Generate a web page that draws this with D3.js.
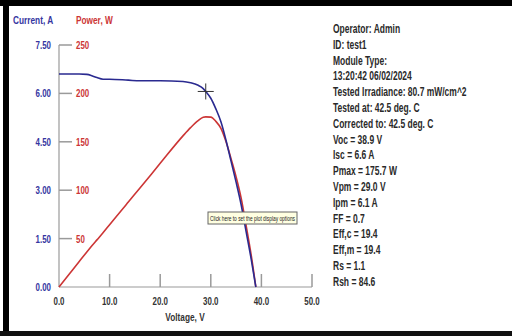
<!DOCTYPE html>
<html>
<head>
<meta charset="utf-8">
<script src="https://cdn.jsdelivr.net/npm/d3@7"></script>
<style>
  body { margin: 0; background: #fff; }
  svg text { font-family: "Liberation Sans", Arial, sans-serif; font-weight: bold; }
</style>
</head>
<body>
<svg id="chart" width="512" height="336"></svg>
<script>
'use strict';

// I-V curve
var voltage = [0, 2, 4, 5.5, 6.5, 7.5, 8.7, 10, 13.7, 16, 20, 24.5, 26, 27.5, 28.5, 29, 30, 31, 32, 33, 34, 35, 36, 37, 38, 38.9]
var current = [6.60, 6.60, 6.60, 6.59, 6.55, 6.49, 6.44, 6.44, 6.41, 6.39, 6.39, 6.37, 6.33, 6.25, 6.15, 6.06, 5.85, 5.52, 5.12, 4.55, 3.90, 3.25, 2.55, 1.70, 0.85, 0]
var power = [0, 13.2, 26.4, 36.2, 42.6, 48.7, 56.0, 64.4, 87.8, 102.2, 127.8, 156.1, 164.6, 171.9, 175.3, 175.7, 175.5, 171.1, 163.8, 150.2, 132.6, 113.8, 91.8, 62.9, 32.3, 0]

var currentTicks = [0, 1.5, 3, 4.5, 6, 7.5]
var powerTicks = [0, 50, 100, 150, 200, 250]
var voltageTicks = [0, 10, 20, 30, 40, 50]

var mpp = { v: 29.0, i: 6.06 }

var infoLines = [
  'Operator: Admin',
  'ID: test1',
  'Module Type:',
  '13:20:42 06/02/2024',
  'Tested Irradiance: 80.7 mW/cm^2',
  'Tested at: 42.5 deg. C',
  'Corrected to: 42.5 deg. C',
  'Voc = 38.9 V',
  'Isc = 6.6 A',
  'Pmax = 175.7 W',
  'Vpm = 29.0 V',
  'Ipm = 6.1 A',
  'FF = 0.7',
  'Eff,c = 19.4',
  'Eff,m = 19.4',
  'Rs = 1.1',
  'Rsh = 84.6'
]

var blue = '#35359f', red = '#cc3535', grey = '#9a9a9a'
var narrow = 0.72   // no narrow font installed, squeeze horizontally

var svg = d3.select('#chart')

// black frame (scanned screenshot edges)
svg.append('rect').attr('x', 0).attr('y', 0).attr('width', 512).attr('height', 6).attr('fill', '#000')
svg.append('rect').attr('x', 3).attr('y', 0).attr('width', 6).attr('height', 336).attr('fill', '#000')
svg.append('rect').attr('x', 0).attr('y', 331).attr('width', 512).attr('height', 5).attr('fill', '#111')

var x = d3.scaleLinear().domain([0, 50]).range([59, 312])
var yI = d3.scaleLinear().domain([0, 7.5]).range([287, 45])
var yP = d3.scaleLinear().domain([0, 250]).range([287, 45])

var g = svg.append('g')

function label(sel, tx, ty, sx) {
  return sel.attr('transform', function(d, i) {
    return 'translate(' + tx(d, i) + ',' + ty(d, i) + ') scale(' + (sx || narrow) + ',1)'
  })
}
function k(v) { return function() { return v } }

// axes lines
g.append('line').attr('x1', x(0)).attr('x2', x(0)).attr('y1', yI(7.5)).attr('y2', yI(0)).attr('stroke', grey).attr('stroke-width', 1.2)
g.append('line').attr('x1', x(0)).attr('x2', x(50)).attr('y1', yI(0)).attr('y2', yI(0)).attr('stroke', grey).attr('stroke-width', 1.2)

// left ticks
g.selectAll('.ytick').data(currentTicks.slice(1)).enter().append('line')
  .attr('x1', x(0)).attr('x2', x(0) + 13)
  .attr('y1', function(d) { return yI(d) }).attr('y2', function(d) { return yI(d) })
  .attr('stroke', grey).attr('stroke-width', 1.5)

label(g.selectAll('.ilab').data(currentTicks).enter().append('text'), k(51), function(d) { return yI(d) + 4 })
  .attr('text-anchor', 'end').attr('font-size', 11).attr('fill', blue)
  .text(function(d) { return d3.format('.2f')(d) })

label(g.selectAll('.plab').data(powerTicks.slice(1)).enter().append('text'), k(76), function(d) { return yP(d) + 4 })
  .attr('font-size', 11).attr('fill', red)
  .text(function(d) { return d })

// bottom ticks
g.selectAll('.xtick').data(voltageTicks.slice(1)).enter().append('line')
  .attr('x1', function(d) { return x(d) }).attr('x2', function(d) { return x(d) })
  .attr('y1', yI(0)).attr('y2', yI(0) - 13)
  .attr('stroke', grey).attr('stroke-width', 1.5)

label(g.selectAll('.xlab').data(voltageTicks).enter().append('text'), function(d) { return x(d) }, k(305))
  .attr('text-anchor', 'middle').attr('font-size', 11).attr('fill', '#333')
  .text(function(d) { return d3.format('.1f')(d) })

label(g.append('text'), k(185), k(321)).attr('text-anchor', 'middle')
  .attr('font-size', 11.5).attr('fill', '#333').text('Voltage, V')
label(g.append('text'), k(13), k(24)).attr('font-size', 11.5).attr('fill', blue).text('Current, A')
label(g.append('text'), k(76), k(24)).attr('font-size', 11.5).attr('fill', red).text('Power, W')

// curves
var idx = d3.range(voltage.length)
var lineI = d3.line().curve(d3.curveMonotoneX)
  .x(function(i) { return x(voltage[i]) }).y(function(i) { return yI(current[i]) })
var lineP = d3.line().curve(d3.curveMonotoneX)
  .x(function(i) { return x(voltage[i]) }).y(function(i) { return yP(power[i]) })

g.append('path').attr('d', lineP(idx)).attr('fill', 'none').attr('stroke', red).attr('stroke-width', 1.6)
g.append('path').attr('d', lineI(idx)).attr('fill', 'none').attr('stroke', '#2a2a90').attr('stroke-width', 1.6)

// max power crosshair
var cx = x(mpp.v), cy = yI(mpp.i)
g.append('line').attr('x1', cx - 8).attr('x2', cx + 8).attr('y1', cy).attr('y2', cy).attr('stroke', '#333').attr('stroke-width', 1)
g.append('line').attr('x1', cx).attr('x2', cx).attr('y1', cy - 8).attr('y2', cy + 8).attr('stroke', '#333').attr('stroke-width', 1)

// tooltip box
var tip = g.append('g').attr('transform', 'translate(208,212)')
tip.append('rect').attr('width', 89).attr('height', 12).attr('fill', '#ffffe1').attr('stroke', '#666').attr('stroke-width', 1)
tip.append('text').attr('x', 2).attr('y', 9).attr('font-size', 7)
  .style('font-weight', 'normal').attr('fill', '#222').attr('textLength', 85).attr('lengthAdjust', 'spacingAndGlyphs')
  .text('Click here to set the plot display options')

// info panel
label(g.selectAll('.info').data(infoLines).enter().append('text'), k(333), function(d, i) { return 33 + i * 15.8 }, 0.68)
  .attr('font-size', 12.5).attr('fill', '#2a2a2a')
  .text(function(d) { return d })
</script>
</body>
</html>
